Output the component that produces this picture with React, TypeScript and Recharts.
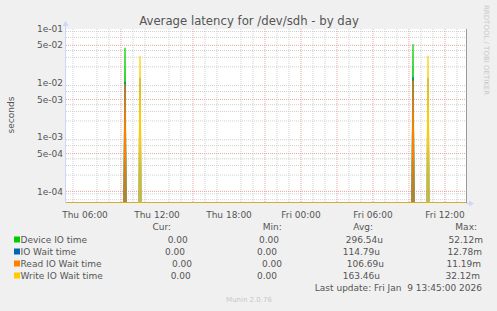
import React from "react";
import { LineChart, Line, XAxis, YAxis, CartesianGrid } from "recharts";

// ---- data (hours since Thu 00:00) ----
const sampleHours = [4.4167, 9.25, 9.3333, 9.4167, 10.5, 10.5833, 10.6667, 33.25, 33.3333, 33.4167, 34.5, 34.5833, 34.6667, 37.75];
const deviceIO = [0, 0, 0.045, 0, 0, 0, 0, 0, 0.052, 0, 0, 0, 0, 0];
const ioWait = [0, 0, 0.0105, 0, 0, 0.0125, 0, 0, 0.0128, 0, 0, 0.0125, 0, 0];
const readIOWait = [0, 0, 0.0095, 0, 0, 0, 0, 0, 0.0112, 0, 0, 0, 0, 0];
const writeIOWait = [0, 0, 0, 0, 0, 0.0315, 0, 0, 0, 0, 0, 0.0321, 0, 0];

const xTickHours = [6, 12, 18, 24, 30, 36];
const xTickLabels = ["Thu 06:00", "Thu 12:00", "Thu 18:00", "Fri 00:00", "Fri 06:00", "Fri 12:00"];
const yTickValues = [1e-1, 5e-2, 1e-2, 5e-3, 1e-3, 5e-4, 1e-4];
const yTickLabels = ["1e-01", "5e-02", "1e-02", "5e-03", "1e-03", "5e-04", "1e-04"];

const seriesNames = ["Device IO time", "IO Wait time", "Read IO Wait time", "Write IO Wait time"];
const seriesColors = ["#00cc00", "#0066b3", "#ff8000", "#ffcc00"];
const curValues = ["0.00", "0.00", "0.00", "0.00"];
const minValues = ["0.00", "0.00", "0.00", "0.00"];
const avgValues = ["296.54u", "114.79u", "106.69u", "163.46u"];
const maxValues = ["52.12m", "12.78m", "11.19m", "32.12m"];

const X_MIN = 4.4167;
const X_MAX = 37.75;
const Y_MIN = 6.1e-5;
const Y_MAX = 0.1;

const floorVal = (v: number) => (v <= 0 ? Y_MIN : v);
const data = sampleHours.map((h, i) => ({
  t: h,
  d: floorVal(deviceIO[i]),
  w: floorVal(ioWait[i]),
  r: floorVal(readIOWait[i]),
  wr: floorVal(writeIOWait[i]),
}));
const keys = ["d", "w", "r", "wr"];

// grid values
const minorH: number[] = [];
for (let e = -5; e <= -1; e++) {
  for (let m = 2; m <= 9; m++) {
    if (m === 5) continue;
    const v = m * Math.pow(10, e);
    if (v > Y_MIN && v < Y_MAX) minorH.push(v);
  }
}
const minorV: number[] = [];
for (let h = 5; h <= 37; h++) if (h % 3 !== 0) minorV.push(h);
const majorV: number[] = [];
for (let h = 6; h <= 36; h += 3) majorV.push(h);

const FONT = "'DejaVu Sans', sans-serif";
const TXT = "#555";

// layout
const W = 497;
const H = 311;
const PL = 66;
const PT = 29;
const PR = 466;
const PB = 203;

export default function App() {
  const rowY = [239.5, 251.5, 263.5, 275.5];
  const curEnd = [187.7, 185, 192, 190.7];
  const minEnd = [279, 277, 282, 277];
  const avgEnd = [383, 380, 384, 380];
  const maxEnd = [483, 482, 481, 480];
  return (
    <div style={{ position: "absolute", left: 0, top: 0, width: W, height: H, background: "#f0f0f0", fontFamily: FONT }}>
      <LineChart
        width={W}
        height={H}
        data={data}
        margin={{ top: PT, right: W - PR, bottom: H - PB - 20, left: 0 }}
      >
        <CartesianGrid
          fill="#ffffff"
          stroke="#d0d0d0"
          strokeDasharray="1 1"
          horizontalValues={minorH}
          verticalValues={minorV}
        />
        <CartesianGrid
          fillOpacity={0}
          stroke="#e8a4a4"
          strokeDasharray="1 1"
          horizontalValues={yTickValues}
          verticalValues={majorV}
        />
        <XAxis
          dataKey="t"
          type="number"
          domain={[X_MIN, X_MAX]}
          allowDataOverflow
          ticks={xTickHours}
          tickFormatter={(v: number) => xTickLabels[xTickHours.indexOf(v)] ?? ""}
          axisLine={false}
          tickLine={false}
          tickSize={0}
          tickMargin={9}
          height={20}
          tick={{ fontSize: 9, fill: TXT, fontFamily: FONT }}
        />
        <YAxis
          type="number"
          scale="log"
          domain={[Y_MIN, Y_MAX]}
          allowDataOverflow
          ticks={yTickValues}
          tickFormatter={(v: number) => yTickLabels[yTickValues.indexOf(v)] ?? ""}
          axisLine={false}
          tickLine={false}
          tickSize={0}
          tickMargin={3}
          width={PL}
          tick={{ fontSize: 9, fill: TXT, fontFamily: FONT }}
        />
        {keys.map((k, i) => (
          <Line
            key={k}
            dataKey={k}
            type="linear"
            stroke={seriesColors[i]}
            strokeWidth={1.2}
            dot={false}
            activeDot={false}
            isAnimationActive={false}
          />
        ))}
      </LineChart>
      <svg width={W} height={H} style={{ position: "absolute", left: 0, top: 0, pointerEvents: "none" }}>
        {/* frame / axes */}
        <line x1={PR + 0.5} y1={PT} x2={PR + 0.5} y2={PB} stroke="#9a9a9a" strokeWidth={1} />
        <line x1={PL - 0.5} y1={PB} x2={PL - 0.5} y2={PT - 4} stroke="#cfd6f8" strokeWidth={1} />
        <polygon points={`${PL - 3.5},${PT - 3} ${PL + 2.5},${PT - 3} ${PL - 0.5},${PT - 8}`} fill="#cfd6f8" />
        <line x1={PR} y1={PB + 0.5} x2={PR + 4} y2={PB + 0.5} stroke="#cfd6f8" strokeWidth={1} />
        <polygon points={`${PR + 3},${PB - 2.5} ${PR + 3},${PB + 3.5} ${PR + 8},${PB + 0.5}`} fill="#cfd6f8" />
        {/* title */}
        <text x={249} y={25} textAnchor="middle" fontSize={11.7} fill={TXT} fontFamily={FONT}>
          Average latency for /dev/sdh - by day
        </text>
        <text x={0} y={0} transform="translate(14,115) rotate(-90)" textAnchor="middle" fontSize={9} fill={TXT} fontFamily={FONT}>
          seconds
        </text>
        <text x={0} y={0} transform="translate(484,5) rotate(90)" textAnchor="start" fontSize={7} fill="#c8c8c8" fontFamily={FONT}>
          RRDTOOL / TOBI OETIKER
        </text>
        {/* legend */}
        <text x={171} y={230} textAnchor="end" fontSize={9} fill={TXT}>Cur:</text>
        <text x={281.7} y={230} textAnchor="end" fontSize={9} fill={TXT}>Min:</text>
        <text x={373} y={230} textAnchor="end" fontSize={9} fill={TXT}>Avg:</text>
        <text x={477} y={230} textAnchor="end" fontSize={9} fill={TXT}>Max:</text>
        {seriesNames.map((n, i) => (
          <g key={n}>
            <rect x={14} y={rowY[i] - 3} width={6} height={6} fill={seriesColors[i]} />
            <text x={20.5} y={rowY[i] + 3} fontSize={9} fill={TXT}>{n}</text>
            <text x={curEnd[i]} y={rowY[i] + 3} textAnchor="end" fontSize={9} fill={TXT}>{curValues[i]}</text>
            <text x={minEnd[i]} y={rowY[i] + 3} textAnchor="end" fontSize={9} fill={TXT}>{minValues[i]}</text>
            <text x={avgEnd[i]} y={rowY[i] + 3} textAnchor="end" fontSize={9} fill={TXT}>{avgValues[i]}</text>
            <text x={maxEnd[i]} y={rowY[i] + 3} textAnchor="end" fontSize={9} fill={TXT}>{maxValues[i]}</text>
          </g>
        ))}
        <text x={482} y={291} textAnchor="end" fontSize={9} fill={TXT} style={{ whiteSpace: "pre" }}>
          {"Last update: Fri Jan  9 13:45:00 2026"}
        </text>
        <text x={249} y={301.5} textAnchor="middle" fontSize={7} fill="#c8c8c8">Munin 2.0.76</text>
      </svg>
    </div>
  );
}
